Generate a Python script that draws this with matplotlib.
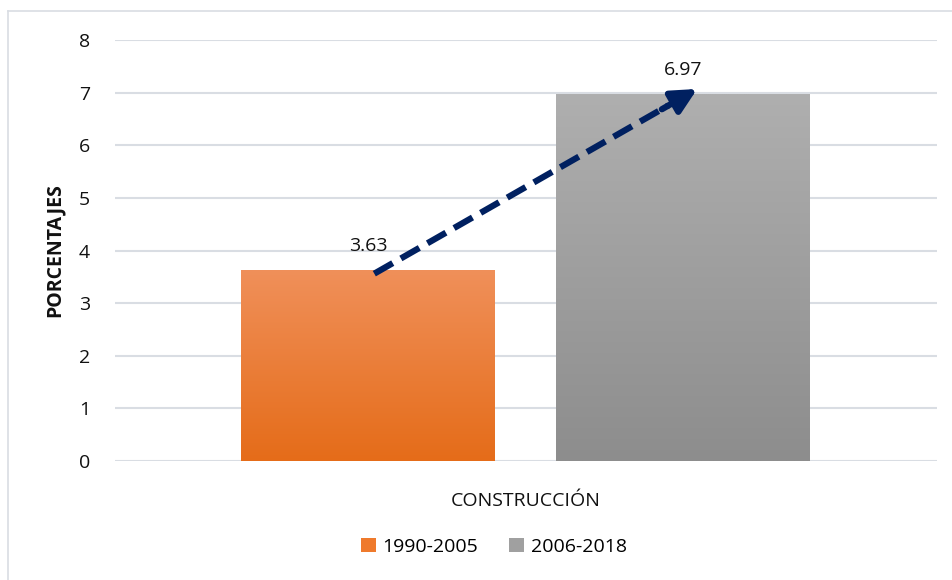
import matplotlib.pyplot as plt
import numpy as np
from matplotlib.lines import Line2D
from matplotlib.patches import Patch

plt.rcParams['font.family'] = ['Open Sans', 'DejaVu Sans']

# data
periods = ['1990-2005', '2006-2018']
values = [3.63, 6.97]
category = 'CONSTRUCCIÓN'
yticks = [0, 1, 2, 3, 4, 5, 6, 7, 8]

# gradient colours (top, bottom)
grads = [('#F0905A', '#E56C19'), ('#AFAFAF', '#8D8D8D')]

W, H = 953, 580
fig = plt.figure(figsize=(W / 100, H / 100), dpi=100)
ax = fig.add_axes([115 / W, 1 - 461 / H, (937 - 115) / W, (461 - 40) / H])

xpos = np.arange(len(values))
bw = 0.806
bars = ax.bar(xpos, values, width=bw, color='none', zorder=2)

# gradient fill clipped to each bar
for b, (top, bot) in zip(bars, grads):
    c1 = np.array(plt.matplotlib.colors.to_rgb(top))
    c2 = np.array(plt.matplotlib.colors.to_rgb(bot))
    t = np.linspace(0, 1, 256)[:, None]
    img = (c1 * (1 - t) + c2 * t)[:, None, :]
    x0, y0 = b.get_x(), b.get_y()
    im = ax.imshow(img, extent=[x0, x0 + b.get_width(), y0, y0 + b.get_height()],
                   aspect='auto', zorder=2, interpolation='bilinear')
    im.set_clip_path(b)

for x, v in zip(xpos, values):
    ax.annotate(f'{v:.2f}', (x, v), xytext=(0, 11), textcoords='offset points',
                ha='center', va='bottom', fontsize=14, color='#111111')

# trend arrow
start = (0.02, 3.56)
end = (1.045, 7.07)
frac = 0.91
mid = (start[0] + (end[0] - start[0]) * frac, start[1] + (end[1] - start[1]) * frac)
ax.plot([start[0], mid[0]], [start[1], mid[1]], color='#002060', lw=4.5,
        linestyle=(0, (3.4, 1.5)), solid_capstyle='butt', dash_capstyle='butt', zorder=4)
ax.annotate('', xy=end, xytext=(mid[0] - 0.02, mid[1] - 0.07),
            arrowprops=dict(arrowstyle='-|>,head_length=1.5,head_width=0.75',
                            color='#002060', lw=4.5, shrinkA=0, shrinkB=0), zorder=5)

ax.set_xlim(-0.803, 1.806)
ax.set_ylim(0, 8)
ax.set_yticks(yticks)
ax.set_yticklabels([str(v) for v in yticks], fontsize=14, color='#111111')
ax.set_xticks([0.5])
ax.set_xticklabels([category], fontsize=14, color='#111111')
ax.tick_params(axis='y', length=0, pad=18)
ax.tick_params(axis='x', length=0, pad=22)
ax.grid(axis='y', color='#D9DDE3', lw=1.5, zorder=0)
ax.set_axisbelow(True)
for s in ax.spines.values():
    s.set_visible(False)
ax.set_ylabel('PORCENTAJES', fontsize=14, fontweight='bold', labelpad=10, color='#111111')

handles = [Patch(facecolor='#EF7A2C', edgecolor='none'), Patch(facecolor='#A0A0A0', edgecolor='none')]
fig.legend(handles, periods, loc='center', bbox_to_anchor=(494 / W, 1 - 547 / H), ncol=2,
           frameon=False, fontsize=14, handlelength=0.75, handleheight=0.75,
           handletextpad=0.35, columnspacing=1.6)

# chart border (left and top)
fig.add_artist(Line2D([8 / W, 8 / W], [0, 1 - 11 / H], color='#D9DDE3', lw=1.2))
fig.add_artist(Line2D([8 / W, 1], [1 - 11 / H, 1 - 11 / H], color='#D9DDE3', lw=1.2))

fig.savefig('out.png', dpi=100)
